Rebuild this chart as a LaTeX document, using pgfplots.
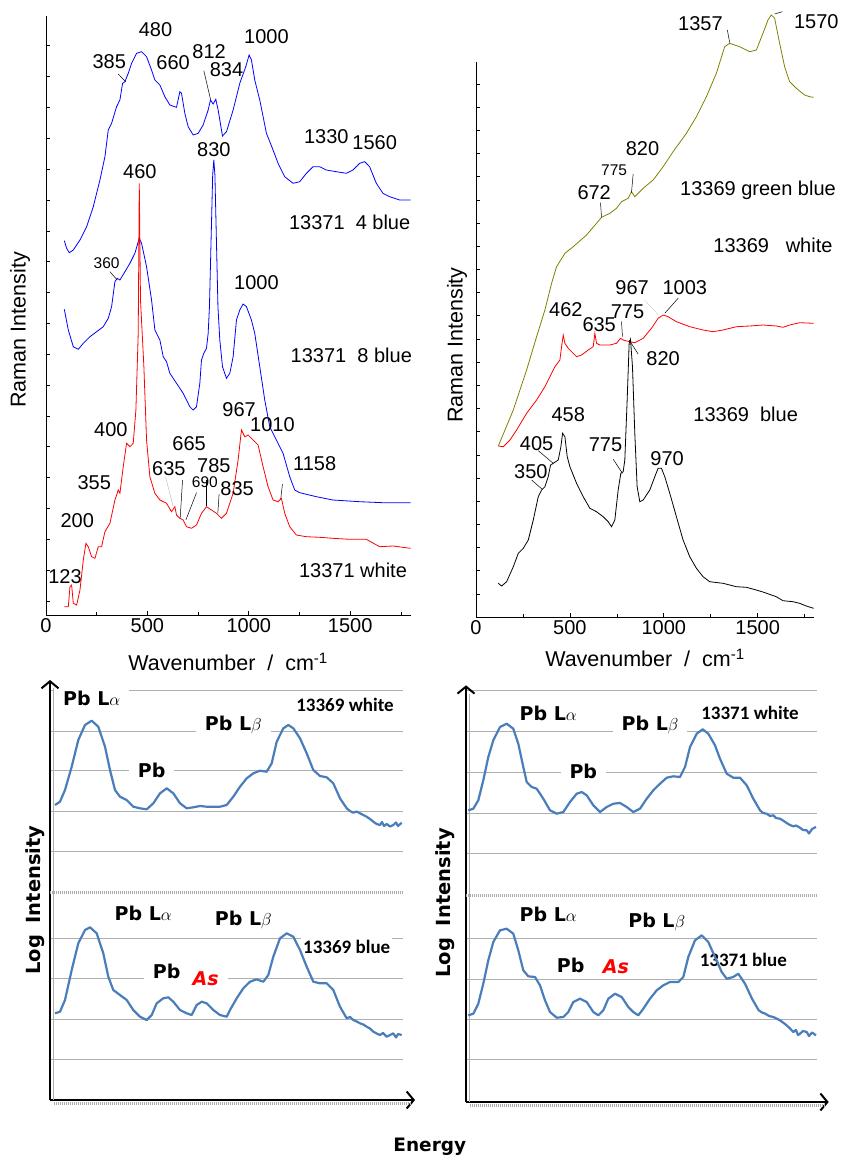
\documentclass[border=0pt]{standalone}
\usepackage{fontspec}
\setmainfont{Liberation Sans}
\newfontfamily\calib{Carlito}
\newfontfamily\comic{DejaVu Sans}
\usepackage{pgfplots}
\pgfplotsset{compat=1.18}
\usetikzlibrary{arrows.meta}

\definecolor{olivel}{RGB}{128,128,0}
\definecolor{xrfblue}{RGB}{74,126,187}
\definecolor{gridg}{RGB}{175,175,175}

\newcommand\rl{\fontsize{20}{24}\selectfont}
\newcommand\rs{\fontsize{15.5}{18}\selectfont}

\tikzset{
  rn/.style={font=\rl},
  rs/.style={font=\rs},
  lab/.style={font=\comic\bfseries\fontsize{19}{23}\selectfont, fill=white, inner xsep=9pt, inner ysep=2pt},
  num/.style={font=\calib\bfseries\fontsize{19}{22}\selectfont, fill=white, inner sep=2pt},
  xline/.style={xrfblue, line width=2.2pt, line join=round, no marks},
  ptr/.style={line width=0.5pt},
  band/.style={gray!65, line width=3.5pt, dash pattern=on 1.2pt off 0.8pt},
}

\pgfplotsset{
  raman/.style={
    scale only axis, clip=false,
    axis x line=bottom, axis y line=left,
    axis line style={-, line width=0.8pt},
    xmin=0, xmax=1800,
    xtick={0,500,1000,1500}, minor xtick={250,750,1250,1750},
    tick align=inside, major tick length=4pt, minor tick length=3pt,
    every tick/.style={black, line width=0.6pt},
    yticklabels={},
    ticklabel style={font=\rl},
    /pgf/number format/1000 sep={},
    /pgf/number format/assume math mode=true,
    label style={font=\fontsize{21.5}{25}\selectfont},
  },
  xrf/.style={
    scale only axis, clip=false,
    axis x line=bottom, axis y line=left,
    axis line style={line width=2.2pt, -{Straight Barb[length=7pt, width=17pt, line width=2pt]}},
    x axis line style={shorten >=-12pt},
    xtick=\empty, yticklabels={}, major tick length=0pt,
    ymajorgrids, major grid style={gridg, line width=0.9pt},
    extra y tick labels={},
    extra y tick style={grid=major, major grid style={band}},
    ylabel style={font=\comic\bfseries\fontsize{19.5}{24}\selectfont},
  },
}

\begin{document}
\begin{tikzpicture}
\useasboundingbox (0,0) rectangle (843pt,-1165pt);

% ---------- top left: Raman 13371 ----------
\begin{axis}[raman,
  at={(46pt,-615pt)}, anchor=south west,
  width=365pt, height=599pt,
  ymin=0, ymax=599, ytick={14,44.85,...,590},
  xlabel={Wavenumber\ \ /\ \ cm\textsuperscript{-1}},
  xlabel style={at={(axis description cs:0.499,-0.078)}, anchor=center},
  ylabel={Raman Intensity},
  ylabel style={at={(axis description cs:-0.071,0.476)}, anchor=center},
]
\addplot[blue, line width=0.8pt] coordinates {
(90.3,374.3) (101.8,366.7) (114.9,362.3) (134.6,365) (167.5,375) (200.3,388.3)
(233.2,408.3) (266,435) (290.6,458.3) (307,485) (323.5,491.7) (348.1,508.3)
(364.5,515) (377.7,531.7) (389.2,533.3) (405.6,541.7) (422,551.7) (446.6,561.7)
(471.3,563.3) (495.9,558.3) (520.5,545) (537,535) (561.6,530) (586.2,518.3)
(610.8,510) (643.7,507.7) (660.1,523.3) (668.3,521.7) (684.7,501.7) (701.1,488.3)
(725.8,480) (750.4,481.7) (775,490) (799.7,505) (811.1,515) (824.3,511)
(837.4,515.7) (848.9,505) (870.3,479) (890,483.3) (922.8,505) (955.6,531.7)
(985.2,548.3) (1001.6,560) (1013.1,555) (1029.5,535) (1054.2,515) (1087,481.7)
(1119.8,465) (1144.5,451.7) (1177.3,438.3) (1218.4,431.7) (1251.2,433.3)
(1284.1,441.7) (1316.9,448.3) (1349.7,448.3) (1382.6,445) (1431.8,443.3)
(1481.1,441.7) (1513.9,445) (1546.8,451.7) (1571.4,453.3) (1596,448.3)
(1628.9,431.7) (1661.7,421.7) (1694.6,418.3) (1743.8,415) (1798,415)
};
\addplot[blue, line width=0.8pt] coordinates {
(90.3,305.7) (110,285) (134.6,268.3) (159.3,265.7) (183.9,271.7) (216.7,278.3)
(249.6,283.3) (282.4,288.3) (307,296.7) (323.5,308.3) (339.9,333.3) (351.4,336.7)
(364.5,335) (389.2,343.3) (413.8,351.7) (438.4,361.7) (459.8,376.7) (471.3,371.7)
(495.9,348.3) (520.5,315) (537,285) (561.6,275) (578,258.3) (594.4,253.3)
(610.8,241.7) (643.7,231.7) (676.5,221.7) (709.3,208.3) (725.8,205) (742.2,208.3)
(758.6,231.7) (766.8,255) (778.3,261.7) (791.4,266.7) (799.7,281.7) (806,308)
(822,440) (827.6,455) (833,440) (848,308) (857.1,275) (870.3,248.3) (890,236.7)
(906.4,241.7) (922.8,258.3) (939.3,295) (955.6,305) (972.1,311) (988.5,308.3)
(1013.1,295) (1029.5,281.7) (1054.2,248.3) (1078.8,215) (1103.4,188.3)
(1136.3,175) (1169.1,161.7) (1201.9,138.3) (1226.6,125) (1251.2,122.3)
(1333.3,118.3) (1415.4,115) (1546.8,113.3) (1661.7,112.3) (1798,112.3)
};
\addplot[red, line width=0.8pt] coordinates {
(90.3,8.3) (110,8.3) (118.2,28.3) (126.4,30) (134.6,11.7) (151.1,10) (167.5,25)
(183.9,55) (197,71.7) (208.5,68.3) (225,58.3) (241.4,56.7) (257.8,68.3)
(274.2,68.3) (290.6,83.3) (315.3,91.7) (339.9,115) (356.3,125) (364.5,121.7)
(380.9,148.3) (397.4,171.7) (413.8,168.3) (430.2,171.7) (443.3,205) (454.8,281.7)
(460,431.7) (466,315) (482.7,248.3) (495.9,175) (512.3,138.3) (536.9,121.7)
(561.6,115) (594.4,111.7) (619,103.3) (635.5,108.3) (643.7,100) (660.1,96.7)
(676.5,95) (692.9,88.3) (717.6,86.7) (742.2,90) (766.8,101.7) (791.4,108.3)
(816.1,105) (840.7,101.7) (865.3,96.7) (890,101.7) (922.8,121.7) (947.4,155)
(963.9,185) (980.3,178.3) (996.7,180) (1021.3,175) (1046,170) (1070.6,148.3)
(1095.2,128.3) (1119.8,115) (1144.5,113.3) (1160.9,116.7) (1177.3,101.7)
(1201.9,88.3) (1234.8,80) (1284.1,78.3) (1349.7,77.7) (1415.4,76.7)
(1497.5,75.7) (1579.6,75.7) (1645.3,68.3) (1711,69) (1798,66.7)
};
\node[rn] at (540,585) {480};
\node[rn] at (312,553.3) {385};
\node[rn] at (627,552.3) {660};
\node[rn] at (804.5,563.3) {812};
\node[rn] at (890,545.7) {834};
\node[rn] at (1087,578.3) {1000};
\node[rn] at (1382.6,478.3) {1330};
\node[rn] at (1620.7,472.3) {1560};
\node[rn] at (1497.5,392.3) {13371\ \ 4 blue};
\node[rn] at (827.6,465) {830};
\node[rn] at (463,443.3) {460};
\node[rs] at (299,351.7) {360};
\node[rn] at (1037.9,332.3) {1000};
\node[rn] at (1505.7,260) {13371\ \ 8 blue};
\node[rn] at (952.2,205.7) {967};
\node[rn] at (1116.6,190) {1010};
\node[rn] at (320.2,185.7) {400};
\node[rn] at (706,171) {665};
\node[rn] at (605.9,146.7) {635};
\node[rn] at (827.6,149.3) {785};
\node[rs] at (783.2,132.7) {690};
\node[rn] at (942.3,126.7) {835};
\node[rn] at (1325.1,151) {1158};
\node[rn] at (237.9,132.7) {355};
\node[rn] at (154.2,94.3) {200};
\node[rn] at (93.6,38.3) {123};
\node[rn] at (1513.9,44.3) {13371 white};
\draw[ptr] (356,541) -- (392.6,533.3);
\draw[ptr] (778.3,544.3) -- (811.3,515.7);
\draw[ptr] (315.3,343.3) -- (351.2,335);
\draw[ptr, gray!50] (589.6,138.3) -- (627.1,108.3);
\draw[ptr] (673.4,135) -- (661.6,96.7);
\draw[ptr] (742.3,122.3) -- (689.6,95);
\draw[ptr] (791.6,135) -- (791.6,109.3);
\draw[ptr] (853.7,121) -- (847.3,101.7);
\draw[ptr] (1166,131) -- (1157.6,115.7);
\end{axis}

% ---------- top right: Raman 13369 ----------
\begin{axis}[raman,
  at={(476pt,-617pt)}, anchor=south west,
  width=338pt, height=555pt,
  ymin=0, ymax=555, ytick={0,23.17,...,555},
  xlabel={Wavenumber\ \ /\ \ cm\textsuperscript{-1}},
  xlabel style={at={(axis description cs:0.5,-0.074)}, anchor=center},
  ylabel={Raman Intensity},
  ylabel style={at={(axis description cs:-0.056,0.49)}, anchor=center},
]
\addplot[olivel, line width=0.8pt] coordinates {
(118.8,171) (198.6,207) (269.5,247) (322.7,280.3) (367,307) (402.5,333.7)
(429.1,350.3) (473.4,363.7) (517.7,370.3) (588.6,382) (641.8,393.7) (668.4,399.7)
(712.7,403.7) (748.2,408.7) (774.8,415.3) (810.3,418.7) (828,425.3) (845.7,420.3)
(890.1,428.7) (943.2,437) (996.4,450.3) (1049.6,465.3) (1120.5,483.7)
(1173.7,500.3) (1226.9,520.3) (1280.1,543.7) (1324.4,570.3) (1351,573.7)
(1404.2,570.3) (1457.4,565.3) (1492.9,567) (1528.3,583.7) (1554.9,597)
(1572.7,602) (1590.4,598.7) (1617,573.7) (1643.6,550.3) (1670.2,535.3)
(1705.6,528.7) (1749.9,522) (1776.5,520.3) (1798,519.7)
};
\addplot[red, line width=0.8pt] coordinates {
(118.8,171) (145.4,170.3) (180.8,177) (216.3,187) (269.5,203.7) (322.7,217)
(367,230.3) (393.6,240.3) (420.2,250.3) (446.8,257) (455.7,270.3) (464.5,282)
(473.4,273.7) (491.1,268.7) (535.5,260.3) (562.1,262) (597.5,267) (624.1,270.3)
(633,283.7) (641.8,273.7) (659.6,272) (712.7,272) (748.2,273.7) (769.5,278.7)
(783.7,277) (819.1,275.3) (845.7,274.3) (890.1,278.7) (934.4,288.7) (969.8,298.7)
(996.4,302) (1023,300.3) (1067.3,295.3) (1138.3,290.3) (1209.2,287) (1262.4,285.3)
(1315.6,287) (1386.5,290.3) (1457.4,291) (1528.3,292) (1599.2,291) (1634.7,289.7)
(1670.2,292) (1723.4,294.3) (1798,293.7)
};
\addplot[black, line width=0.8pt] coordinates {
(118.8,33.7) (136.5,31) (163.1,35.3) (198.6,50.3) (225.2,63.7) (251.8,68.7)
(278.4,77) (305,97) (331.6,120.3) (349.3,127) (367,130.3) (384.7,140.3)
(397.2,152) (411.3,153.7) (437.9,157) (452.1,170.3) (461,183.7) (473.4,180.3)
(485.8,160.3) (500,150.3) (535.5,133.7) (570.9,120.3) (606.4,108.7) (641.8,105.3)
(677.3,100.3) (703.9,95.3) (721.6,90.3) (739.3,97) (757.1,127) (771.3,143.7)
(783.7,145.3) (792.5,157) (805,217) (815.6,273.7) (822.7,277.7) (833.3,250.3)
(845.7,183.7) (858.1,130.3) (872.3,115.3) (890.1,117) (925.5,127) (952.1,140.3)
(969.8,148.7) (987.6,148.7) (1005.3,140.3) (1031.9,123.7) (1067.3,100.3)
(1102.8,77) (1138.3,60.3) (1173.7,48.7) (1209.2,40.3) (1244.6,35.3) (1315.6,33.7)
(1386.5,30.3) (1439.7,29.7) (1492.9,27) (1528.3,25) (1599.2,20.3) (1634.7,16.3)
(1687.9,15.3) (1723.4,13.7) (1758.8,11) (1798,8.7)
};
\node[rn] at (1195,593) {1357};
\node[rn] at (1812,595.3) {1570};
\node[rn] at (886.5,468.7) {820};
\node[rs] at (735.8,447) {775};
\node[rn] at (629.4,424.3) {672};
\node[rn] at (1501.7,426.3) {13369 green blue};
\node[rn] at (1581.5,371.3) {13369\ \ \ white};
\node[rn] at (831.5,329.7) {967};
\node[rn] at (1111.7,329.7) {1003};
\node[rn] at (478.7,307) {462};
\node[rn] at (656,292) {635};
\node[rn] at (806.7,305.3) {775};
\node[rn] at (996.4,258.7) {820};
\node[rn] at (1436.1,202.7) {13369\ \ blue};
\node[rn] at (491.1,202.7) {458};
\node[rn] at (322.7,173) {405};
\node[rn] at (292.5,145.3) {350};
\node[rn] at (689.7,172.7) {775};
\node[rn] at (1017.7,158) {970};
\draw[ptr] (1338.6,587) -- (1351,574.3);
\draw[ptr] (1590.4,603) -- (1631.2,605.3);
\draw[ptr] (836.9,443) -- (828,424.3);
\draw[ptr] (663.1,414.3) -- (668.4,399.7);
\draw[line width=0.4pt, densely dotted, gray] (898.9,317) -- (969.8,302);
\draw[ptr] (1076.2,318.7) -- (1005.3,303.7);
\draw[ptr] (774.8,295.3) -- (780.1,280.3);
\draw[ptr] (815.6,277) -- (863.5,263);
\draw[ptr] (331.6,166.3) -- (411.3,153.7);
\draw[ptr] (296.1,137) -- (352.8,127.7);
\draw[ptr] (730.5,157.7) -- (780.1,143.7);
\end{axis}

% ---------- bottom left: XRF 13369 ----------
\begin{axis}[xrf,
  at={(50pt,-1100pt)}, anchor=south west,
  width=353pt, height=420pt,
  xmin=0, xmax=353, ymin=0, ymax=420,
  ytick={40.7,80.7,121.3,161.7,249,289,329.7,369,410},
  extra y ticks={207.3},
  ylabel={Log\hspace{0.6em}Intensity},
  ylabel style={at={(axis description cs:-0.042,0.476)}, anchor=center},
  xlabel={Energy},
  xlabel style={font=\comic\bfseries\fontsize{18.5}{22}\selectfont, at={(axis description cs:1.076,-0.112)}, anchor=center},
]
\draw[band] ([yshift=-3.5pt]rel axis cs:0.01,0) -- ([yshift=-3.5pt]rel axis cs:1.02,0);
\draw[gridg, line width=0.9pt] ([xshift=3pt]rel axis cs:0,0) -- ([xshift=3pt]rel axis cs:0,0.98);
\node[lab] at (41.7,401.7) {Pb L$\alpha$};
\node[num] at (295,395) {13369 white};
\node[lab] at (183.3,375) {Pb L$\beta$};
\node[lab] at (101.7,330) {Pb};
\node[lab] at (93.3,186.7) {Pb L$\alpha$};
\node[lab] at (193.3,180) {Pb L$\beta$};
\node[num] at (296.7,153.3) {13369 blue};
\node[lab] at (116.7,128.3) {Pb};
\node[lab, text=red] at (155.7,121.7) {\itshape As};
\addplot[xline] coordinates {
(5,295) (10,298.3) (15,310) (21.7,333.3) (28.3,360) (35,375) (41.7,379.3)
(48.3,373.3) (55,353.3) (60,330) (65,310) (70,303.3) (76.7,300) (83.3,293.3)
(90,291.7) (96.7,290.7) (103.3,296.7) (110,306.7) (116.7,311.7) (123.3,306.7)
(130,296.7) (136.7,291.7) (143.3,292.7) (150,294) (156.7,293.3) (163.3,293.3)
(170,293.3) (176.7,295) (183.3,303.3) (190,313.3) (196.7,321.7) (203.3,326.7)
(210,329.3) (216.7,328.3) (221.7,336.7) (226.7,358.3) (233.3,371.7) (238.3,375)
(243.3,371.7) (250,361.7) (256.7,346.7) (263.3,330) (270,324) (276.7,322.7)
(283.3,316.7) (290,301.7) (296.7,291.7) (300,289) (303.3,287.3) (306.7,288.5)
(310,286.7) (313.3,285) (316.7,283.3) (320,281) (323.3,278.3) (326.7,276)
(330,275) (332,278) (334,274) (336.7,276) (340,273.5) (343.3,275) (346,277.5)
(348,274) (351.7,277.3)
};
\addplot[xline] coordinates {
(5,86.7) (10,88.3) (15,100) (21.7,130) (28.3,156.7) (35,170) (40,172.7)
(46.7,166.7) (53.3,146.7) (58.3,123.3) (63.3,110) (70,105) (76.7,100) (83.3,90)
(90,83.3) (96.7,80) (101.7,85) (106.7,96.7) (113.3,101.7) (118.3,102.7)
(123.3,98.3) (130,90) (136.7,86.7) (141.7,85) (146.7,95) (151.7,98.3)
(156.7,96.7) (163.3,90) (170,85) (176.7,83.3) (180,90) (186.7,101.7)
(193.3,111.7) (200,118.3) (206.7,120.7) (213.3,118.3) (218.3,125) (223.3,143.3)
(230,161.7) (236.7,166.7) (243.3,163.3) (250,150) (256.7,133.3) (263.3,118.3)
(270,116.7) (276.7,116.7) (283.3,110) (290,93.3) (296.7,81.7) (300,83)
(303.3,80) (306.7,78.5) (310,76.7) (313.3,75.5) (316.7,73.3) (320,71.5)
(323.3,68.3) (326.7,66.5) (330,65) (333,67) (336.7,63.3) (340,65) (343.3,66.7)
(346,62.5) (348,66) (351.7,65)
};
\end{axis}

% ---------- bottom right: XRF 13371 ----------
\begin{axis}[xrf,
  at={(466pt,-1102pt)}, anchor=south west,
  width=350.7pt, height=416.7pt,
  xmin=0, xmax=350.7, ymin=0, ymax=416.7,
  ytick={42.3,82.3,123,163.3,248.3,289,329.3,370.7,411.7},
  extra y ticks={206.3},
  ylabel={Log\hspace{0.6em}Intensity},
  ylabel style={at={(axis description cs:-0.06,0.478)}, anchor=center},
]
\draw[band] ([yshift=-3.5pt]rel axis cs:0.01,0) -- ([yshift=-3.5pt]rel axis cs:1.02,0);
\draw[gridg, line width=0.9pt] ([xshift=3pt]rel axis cs:0,0) -- ([xshift=3pt]rel axis cs:0,0.98);
\node[lab] at (82.3,389) {Pb L$\alpha$};
\node[lab] at (184,376.7) {Pb L$\beta$};
\node[num] at (284,389) {13371 white};
\node[lab] at (117.3,331) {Pb};
\node[lab] at (82.3,187.3) {Pb L$\alpha$};
\node[lab] at (190.7,180) {Pb L$\beta$};
\node[num] at (277.3,142.3) {13371 blue};
\node[lab] at (104.7,136.7) {Pb};
\node[lab, text=red] at (150,135.7) {\itshape As};
\addplot[xline] coordinates {
(2.3,291.7) (7.3,293.3) (12.3,301.7) (17.3,321.7) (22.3,345) (27.3,361.7)
(34,375) (40.7,378.3) (47.3,373.3) (52.3,358.3) (57.3,335) (60.7,320)
(65.7,315) (70.7,313.3) (77.3,303.3) (84,291.7) (90.7,288.3) (97.3,290)
(104,300) (110.7,308.3) (115.7,310) (120.7,306.7) (127.3,296.7) (134,290)
(140.7,295) (147.3,298.3) (154,299) (160.7,295) (167.3,290) (174,293.3)
(180.7,303.3) (187.3,311.7) (194,318.3) (200.7,324.3) (207.3,325.7) (214,325)
(219,335) (224,355) (230.7,368.3) (236.7,372.7) (242.3,368.3) (249,356.7)
(254,343.3) (260.7,328.3) (267.3,324.3) (274,324.3) (280.7,316.7) (287.3,303.3)
(294,291.7) (297,289) (300.7,288.3) (304,286) (307.3,286.7) (310,284)
(314,283.3) (317,281.5) (320.7,279) (324,277) (327.3,275.7) (330,276.5)
(334,274.3) (337,272) (340.7,271.7) (343,268.5) (346,273) (350,275)
};
\addplot[xline] coordinates {
(2.3,86.7) (7.3,88.3) (12.3,98.3) (17.3,118.3) (22.3,141.7) (27.3,160)
(34,171.7) (40.7,173.3) (47.3,168.3) (52.3,151.7) (57.3,131.7) (62.3,125.7)
(69,125) (74,116.7) (79,101.7) (84,90) (90.7,84.3) (97.3,85) (102.3,90)
(107.3,100) (114,103.3) (120.7,100) (127.3,90) (132.3,86.7) (137.3,91.7)
(142.3,103.3) (149,108.3) (155.7,105) (162.3,95) (167.3,90) (172.3,86.7)
(177.3,93.3) (184,103.3) (190.7,111.7) (197.3,116.7) (204,120) (212.3,120)
(217.3,125) (222.3,145) (229,161.7) (235.7,166.7) (242.3,160) (249,145)
(255.7,130) (260.7,123.3) (267.3,125) (272.3,128.3) (279,118.3) (286,103.3)
(292.7,91.7) (296,89.5) (299.3,88.3) (303,86) (307.3,85) (310.5,83.5)
(314,81.7) (317,79.5) (320.7,76.7) (324,73.5) (327.3,70) (330,72)
(332,67) (334,68.3) (337,71) (340.7,70) (343,66) (346,69.5) (350,66.7)
};
\end{axis}
\end{tikzpicture}
\end{document}
